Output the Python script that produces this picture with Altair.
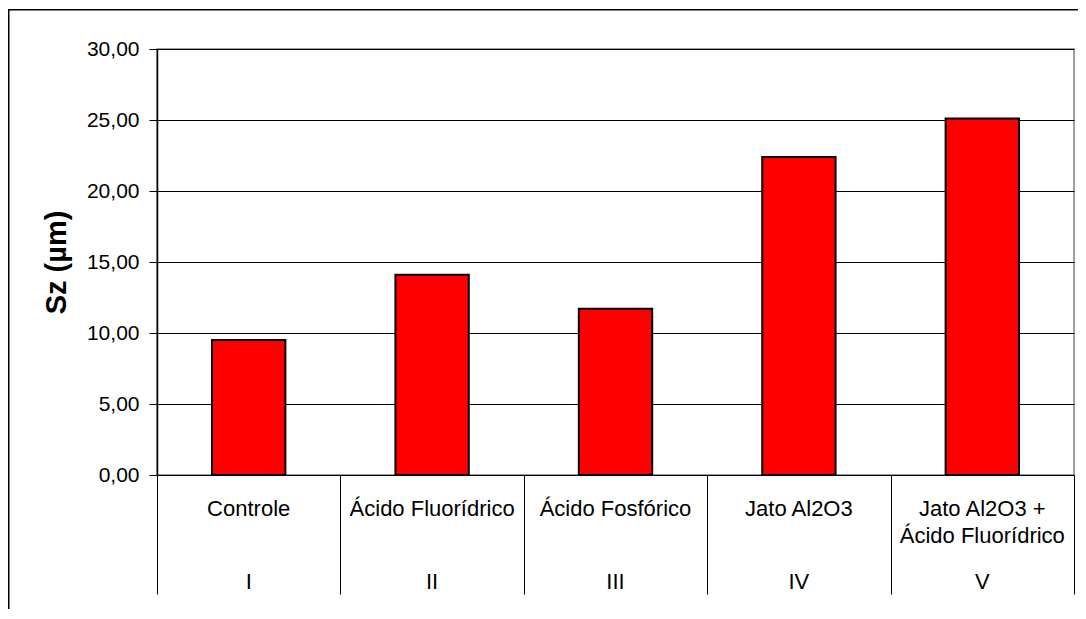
import altair as alt
import pandas as pd

categories = ["Controle", "Ácido Fluorídrico", "Ácido Fosfórico", "Jato Al2O3", "Jato Al2O3 +\nÁcido Fluorídrico"]
roman = ["I", "II", "III", "IV", "V"]
values = [9.5, 14.1, 11.7, 22.4, 25.1]
y_ticks = [0, 5, 10, 15, 20, 25, 30]

df = pd.DataFrame({"cat": categories, "roman": roman, "sz": values})

W, H = 917, 426
FONT = "Liberation Sans"

xscale = alt.Scale(domain=categories, paddingInner=0.6, paddingOuter=0.3)
sepscale = alt.Scale(domain=categories, paddingInner=0, paddingOuter=0)
yscale = alt.Scale(domain=[0, 30], nice=False)

bars = alt.Chart(df).mark_bar(color="#FF0000", stroke="#000000", strokeWidth=2).encode(
    x=alt.X("cat:N", scale=xscale, sort=categories,
            axis=alt.Axis(title=None, labels=False, ticks=False, domainColor="#000000",
                          domainWidth=1, grid=False, orient="bottom")),
    y=alt.Y("sz:Q", scale=yscale,
            axis=alt.Axis(title="Sz (µm)", values=y_ticks,
                          labelExpr="replace(format(datum.value, '.2f'), '.', ',')",
                          labelFont=FONT, labelFontSize=21, labelColor="#000000",
                          labelPadding=10, tickSize=8, tickColor="#000000",
                          domainColor="#000000", domainWidth=1.5,
                          gridColor="#000000", gridWidth=1,
                          titleFont=FONT, titleFontSize=29, titleFontWeight="bold",
                          titleColor="#000000", titleAngle=270, titleX=-101, titleY=H / 2,
                          titleAlign="center", titleBaseline="middle")),
)

separators = alt.Chart(df).mark_point(opacity=0).encode(
    x=alt.X("cat:N", scale=sepscale, sort=categories,
            axis=alt.Axis(title=None, labels=False, tickBand="extent", tickSize=119,
                          tickColor="#000000", tickWidth=1, domain=False, grid=False,
                          orient="bottom")),
    y=alt.value(H / 2),
)

names = alt.Chart(df).mark_text(font=FONT, fontSize=22, color="#000000", baseline="alphabetic",
                                 align="center", lineBreak="\n", lineHeight=27).encode(
    x=alt.X("cat:N", scale=xscale, sort=categories, axis=None),
    y=alt.value(H + 41),
    text="cat:N",
)

romans = alt.Chart(df).mark_text(font=FONT, fontSize=22, color="#000000", baseline="alphabetic",
                                  align="center").encode(
    x=alt.X("cat:N", scale=xscale, sort=categories, axis=None),
    y=alt.value(H + 114),
    text="roman:N",
)

frame = alt.Chart(pd.DataFrame({"a": [0]})).mark_rect(fill="transparent", stroke="#000000",
                                                      strokeWidth=1.5).encode(
    x=alt.value(-148.25), x2=alt.value(W + 40),
    y=alt.value(-39.25), y2=alt.value(H + 200),
)

chart = alt.layer(frame, separators, bars, names, romans).resolve_scale(
    x="independent"
).properties(
    width=W, height=H,
    autosize=alt.AutoSizeParams(type="none"),
    padding={"left": 149, "top": 41, "right": 4, "bottom": 134},
).configure_view(stroke="#808080", strokeWidth=1.5)

chart.save("out.html", embed_options={"renderer": "svg", "actions": False})
